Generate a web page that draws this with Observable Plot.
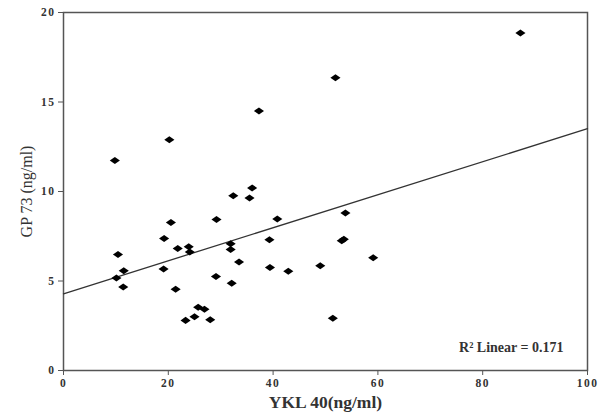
<!DOCTYPE html>
<html>
<head>
<meta charset="utf-8">
<script src="https://cdn.jsdelivr.net/npm/d3@7"></script>
<script src="https://cdn.jsdelivr.net/npm/@observablehq/plot@0.6"></script>
<style>
  html, body { margin: 0; padding: 0; background: #fff; }
  #chart svg { display: block; }
  g[aria-label="x-axis tick label"] text, g[aria-label="y-axis tick label"] text { letter-spacing: 1.5px; }
  g[aria-label="x-title"] text { letter-spacing: 1.2px; }
  g[aria-label="r2-note"] text { letter-spacing: 0.8px; }
</style>
</head>
<body>
<div id="chart"></div>
<script>
const ykl40 = [9.8, 20.2, 37.3, 36.0, 32.4, 35.5, 87.2, 51.9,
  10.4, 10.1, 11.5, 11.4, 19.2, 20.5, 19.1, 21.8, 23.9, 24.1, 21.4, 25.7, 26.9,
  23.3, 25.0, 28.0, 29.2, 29.1, 31.9, 31.9, 32.1, 33.5, 39.3, 39.4, 40.8, 42.9,
  53.8, 53.1, 53.5, 49.0, 59.1, 51.4];
const gp73 = [11.73, 12.89, 14.5, 10.2, 9.76, 9.64, 18.85, 16.35,
  6.48, 5.17, 5.57, 4.66, 7.38, 8.27, 5.67, 6.82, 6.91, 6.62, 4.54, 3.53, 3.42,
  2.8, 3.0, 2.83, 8.43, 5.25, 7.08, 6.76, 4.87, 6.06, 7.3, 5.75, 8.46, 5.55,
  8.8, 7.25, 7.33, 5.85, 6.3, 2.92];
const xTicks = [0, 20, 40, 60, 80, 100];
const yTicks = [0, 5, 10, 15, 20];
const xDomain = [0, 100];
const yDomain = [0, 20];
const r2Label = "R\u00B2 Linear = 0.171";

const points = ykl40.map((x, i) => ({x, y: gp73[i]}));

// least-squares fit of the points, drawn across the whole x domain
const mx = d3.mean(ykl40), my = d3.mean(gp73);
const slope = d3.sum(ykl40, (x, i) => (x - mx) * (gp73[i] - my)) / d3.sum(ykl40, x => (x - mx) ** 2);
const intercept = my - slope * mx;
const fitLine = xDomain.map(x => ({x, y: intercept + slope * x}));

const wideDiamond = {
  draw(context, size) {
    const r = Math.sqrt(size / Math.PI);
    const w = r * 1.15, h = r * 0.8;
    context.moveTo(0, -h);
    context.lineTo(w, 0);
    context.lineTo(0, h);
    context.lineTo(-w, 0);
    context.closePath();
  }
};

const serif = "'Liberation Serif', 'DejaVu Serif', serif";
const M = {marginLeft: 63, marginRight: 11, marginTop: 12, marginBottom: 44};

const chart = Plot.plot({
  width: 598,
  height: 414,
  ...M,
  style: {fontFamily: serif, background: "#fff"},
  x: {domain: xDomain, ticks: xTicks, label: null},
  y: {domain: yDomain, ticks: yTicks, label: null},
  marks: [
    Plot.frame({stroke: "#555", strokeWidth: 1.5}),
    Plot.axisX({...M, ticks: xTicks, tickSize: 5, tickPadding: 3, stroke: "#555",
      fontSize: 11.5, fontWeight: "bold", fill: "#333", label: null}),
    Plot.axisY({...M, ticks: yTicks, tickSize: 5, tickPadding: 3, stroke: "#555",
      fontSize: 11.5, fontWeight: "bold", fill: "#333", label: null}),
    Plot.line(fitLine, {x: "x", y: "y", stroke: "#333", strokeWidth: 1.3}),
    Plot.dot(points, {x: "x", y: "y", symbol: wideDiamond, r: 4.4, fill: "#000", stroke: "none"}),
    Plot.text([r2Label], {...M, ariaLabel: "r2-note", frameAnchor: "bottom-right", dx: -24, dy: -19, text: d => d,
      textAnchor: "end", fontSize: 14, fontWeight: "bold", fill: "#333"}),
    Plot.text(["YKL 40(ng/ml)"], {...M, ariaLabel: "x-title", frameAnchor: "bottom", dy: 37, text: d => d,
      fontSize: 17.5, fill: "#333", fontWeight: "bold"}),
    Plot.text(["GP 73 (ng/ml)"], {...M, frameAnchor: "left", dx: -37, dy: 0, rotate: -90, text: d => d,
      textAnchor: "middle", lineAnchor: "middle", fontSize: 16, fill: "#333"})
  ]
});
document.getElementById("chart").appendChild(chart);
</script>
</body>
</html>
